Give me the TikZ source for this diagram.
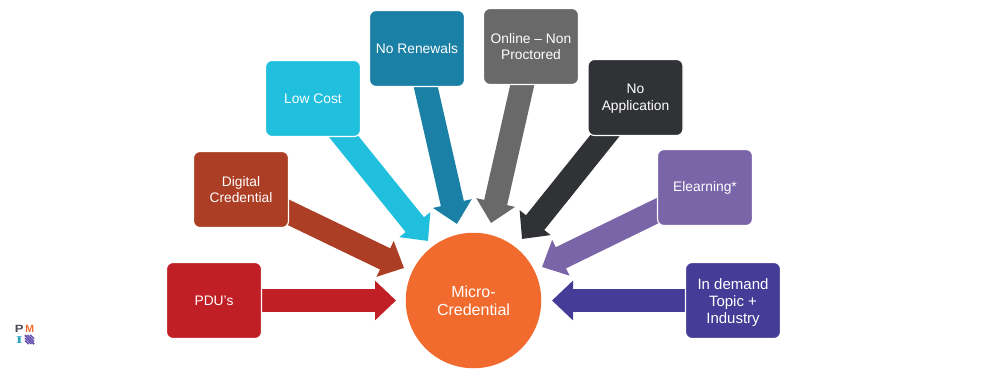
\documentclass[tikz,border=0pt]{standalone}
\usepackage{fontspec}
\setmainfont{Liberation Sans}
\newfontfamily\logoserif{Liberation Serif}
\usetikzlibrary{arrows.meta,backgrounds}
\definecolor{cpdu}{HTML}{C01F25}
\definecolor{cdig}{HTML}{AB3E24}
\definecolor{clow}{HTML}{20BFDD}
\definecolor{cren}{HTML}{1B80A6}
\definecolor{conl}{HTML}{696969}
\definecolor{capp}{HTML}{303236}
\definecolor{celr}{HTML}{7B65A9}
\definecolor{cdem}{HTML}{443C96}
\definecolor{ccir}{HTML}{F26B2E}
\definecolor{lteal}{HTML}{2AA5C4}
\definecolor{lorange}{HTML}{F26B2E}
\definecolor{lgrey}{HTML}{4A4A55}
\definecolor{lpurple}{HTML}{6A55B0}
\tikzset{
  box/.style={draw=white,line width=1.1pt,rounded corners=6.5pt,minimum width=95pt,minimum height=76pt,
    inner sep=0pt,align=center,text=white,font=\fontsize{13.8}{16.3}\selectfont},
  blockarrow/.style={line width=23.5pt,-{Triangle[width=38.5pt,length=21pt]},draw=#1},
  logo/.style={inner sep=0pt,font=\fontsize{10.5}{11}\selectfont\bfseries}
}
\begin{document}
\begin{tikzpicture}[x=1pt,y=-1pt]
\useasboundingbox (0,0) rectangle (1008,390);
\node[box,fill=cpdu] (pdu) at (214,300.5) {PDU’s};
\node[box,fill=cdig] (dig) at (241,189.5) {Digital\\Credential};
\node[box,fill=clow] (low) at (313,98.5) {Low Cost};
\node[box,fill=cren] (ren) at (417,48.5) {No Renewals};
\node[box,fill=conl] (onl) at (531,46.5) {Online – Non\\Proctored};
\node[box,fill=capp] (app) at (635.5,97.5) {\rule{0pt}{12pt}No\\Application};
\node[box,fill=celr] (elr) at (705,187.5) {Elearning*};
\node[box,fill=cdem,font=\fontsize{15}{16.6}\selectfont] (dem) at (733,300.5) {\rule{0pt}{15pt}In demand\\Topic +\\Industry};
\node[circle,fill=ccir,minimum size=135.5pt,inner sep=0pt,align=center,text=white,
  font=\fontsize{16}{18}\selectfont] (mc) at (473.5,300.5) {Micro-\\Credential};
\coordinate (tpdu) at (396,300.5);
\coordinate (tdig) at (404,268);
\coordinate (tlow) at (428,241);
\coordinate (tren) at (457,224);
\coordinate (tonl) at (491,223);
\coordinate (tapp) at (522,239);
\coordinate (telr) at (542,267);
\coordinate (tdem) at (552,300.5);
\begin{scope}[on background layer]
\draw[blockarrow=cpdu] (pdu.center) -- (tpdu);
\draw[blockarrow=cdig] (dig.center) -- (tdig);
\draw[blockarrow=clow] (low.center) -- (tlow);
\draw[blockarrow=cren] (ren.center) -- (tren);
\draw[blockarrow=conl] (onl.center) -- (tonl);
\draw[blockarrow=capp] (app.center) -- (tapp);
\draw[blockarrow=celr] (elr.center) -- (telr);
\draw[blockarrow=cdem] (dem.center) -- (tdem);
\end{scope}
% logo
\node[logo,text=lgrey,transform shape,xscale=1.25] (lp) at (19.3,329) {P};
\node[logo,text=lorange] (lm) at (29.7,329) {M};
\node[logo,text=lteal,transform shape,xscale=1.7,font=\fontsize{10.5}{11}\logoserif\bfseries] (li) at (19.3,339.7) {I};
\foreach \a in {0,2.6,5.2}{
  \draw[lpurple,line width=1.5pt] (25,{335.5+\a}) -- ({34-\a},344);
  \draw[lpurple,line width=1.5pt] ({25+\a},335) -- (34,{344-\a});
}
\end{tikzpicture}
\end{document}
